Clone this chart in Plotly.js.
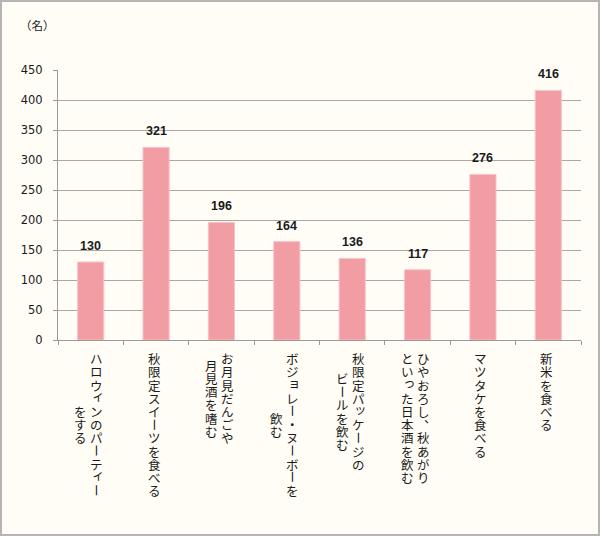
<!DOCTYPE html>
<html>
<head>
<meta charset="utf-8">
<script src="https://cdn.plot.ly/plotly-3.0.1.min.js"></script>
<style>
  html, body { margin: 0; padding: 0; background: #fff; }
  #plot {
    width: 596px; height: 532px;
    border: 2px solid #b4b4b4;
  }
</style>
</head>
<body>
<div id="plot"></div>
<script>
// 項目（縦書きラベル：1行目が右側の列）
const categoryLines = [
  ['ハロウィンのパーティー', 'をする'],
  ['秋限定スイーツを食べる'],
  ['お月見だんごや', '月見酒を嗜む'],
  ['ボジョレー・ヌーボーを', '飲む'],
  ['秋限定パッケージの', 'ビールを飲む'],
  ['ひやおろし、秋あがり', 'といった日本酒を飲む'],
  ['マツタケを食べる'],
  ['新米を食べる']
];
const counts = [130, 321, 196, 164, 136, 117, 276, 416];
const yTicks = [0, 50, 100, 150, 200, 250, 300, 350, 400, 450];
const unitLabel = '（名）';

const categories = categoryLines.map(lines => lines.join(''));

// 縦書きの小書き文字・長音など
const smallKana = 'ァィゥェォッャュョぁぃぅぇぉっゃゅょ';
const rotateChars = 'ー';
const commaChars = '、。';

const fontJP = '"Noto Sans CJK JP", "Noto Sans CJK SC", sans-serif';
const charStep = 13.2;   // 1文字の送り(px)
const colGap = 16;       // 列の間隔(px)
const labelTop = 12;     // 軸から最初の文字まで(px)

// 縦書きラベルを 1 文字ずつ annotation にする
function buildVerticalLabels() {
  const anns = [];
  categoryLines.forEach((lines, ci) => {
    const maxLen = Math.max(...lines.map(l => [...l].length));
    const n = lines.length;
    lines.forEach((line, j) => {
      const chars = [...line];
      const colX = ((n - 1) / 2 - j) * colGap - 2;
      const start = (maxLen - chars.length) / 2 * charStep;
      chars.forEach((ch, i) => {
        let dx = 0, dy = 0, angle = 0;
        if (smallKana.includes(ch)) { dx = 2; dy = 3; }
        if (commaChars.includes(ch)) { dx = 7; dy = 7; }
        if (rotateChars.includes(ch)) { angle = 90; }
        anns.push({
          x: categories[ci], xref: 'x',
          y: 0, yref: 'paper',
          xanchor: 'center', yanchor: 'middle',
          xshift: colX + dx,
          yshift: -(labelTop + start + (i + 0.5) * charStep) + dy,
          text: ch,
          textangle: angle,
          showarrow: false,
          font: { family: fontJP, size: 12.5, color: '#1a1a1a' }
        });
      });
    });
  });
  return anns;
}

// 棒の上の数値
const valueLabels = counts.map((v, i) => ({
  x: categories[i], y: v, xref: 'x', yref: 'y',
  yanchor: 'bottom', yshift: 7,
  text: String(v),
  showarrow: false,
  font: { family: '"Liberation Sans", Arial, sans-serif', size: 12.5, color: '#1a1a1a', weight: 'bold' }
}));

const unitAnn = {
  x: 0, xref: 'paper', xanchor: 'left', xshift: -40,
  y: 1, yref: 'paper', yanchor: 'middle', yshift: 45,
  text: unitLabel, showarrow: false,
  font: { family: fontJP, size: 11.5, color: '#1a1a1a' }
};

const barTrace = {
  type: 'bar',
  x: categories,
  y: counts,
  marker: { color: '#f29ca3', line: { color: '#f7c3c7', width: 1 } },
  hoverinfo: 'x+y',
  showlegend: false
};

const layout = {
  width: 596,
  height: 532,
  margin: { l: 56, r: 16.5, t: 68, b: 194 },
  paper_bgcolor: '#fffdf6',
  plot_bgcolor: '#fffdf6',
  bargap: 0.6,
  xaxis: {
    type: 'category',
    showticklabels: false,
    ticks: 'outside',
    tickson: 'boundaries',
    ticklen: 4,
    tickcolor: '#9a9a9a',
    showline: true,
    linecolor: '#9a9a9a',
    linewidth: 1,
    showgrid: false,
    fixedrange: true
  },
  yaxis: {
    range: [0, 450],
    tickmode: 'array',
    tickvals: yTicks,
    ticks: 'outside',
    ticklen: 4,
    tickcolor: '#9a9a9a',
    showline: true,
    linecolor: '#9a9a9a',
    linewidth: 1,
    gridcolor: '#a8a8a8',
    gridwidth: 1,
    zeroline: false,
    ticklabelstandoff: 8,
    tickfont: { family: '"DejaVu Sans", Verdana, sans-serif', size: 11.5, color: '#1a1a1a' },
    fixedrange: true
  },
  annotations: [...buildVerticalLabels(), ...valueLabels, unitAnn]
};

Plotly.newPlot('plot', [barTrace], layout, { displayModeBar: false, staticPlot: true });
</script>
</body>
</html>
